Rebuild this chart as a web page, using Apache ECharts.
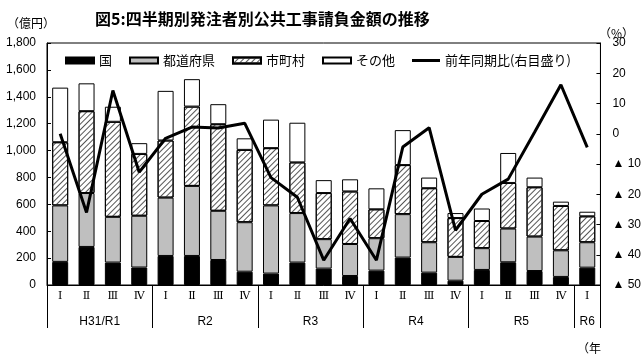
<!DOCTYPE html>
<html><head><meta charset="utf-8">
<script src="https://cdn.jsdelivr.net/npm/echarts@6/dist/echarts.min.js"></script>
<style>html,body{margin:0;padding:0;background:#fff}#c{width:644px;height:354px}</style>
</head><body><div id="c"></div>
<script>
var quarters = ['Ⅰ','Ⅱ','Ⅲ','Ⅳ','Ⅰ','Ⅱ','Ⅲ','Ⅳ','Ⅰ','Ⅱ','Ⅲ','Ⅳ','Ⅰ','Ⅱ','Ⅲ','Ⅳ','Ⅰ','Ⅱ','Ⅲ','Ⅳ','Ⅰ'];
var years = ['H31/R1','R2','R3','R4','R5','R6'];
var yearCounts = [4,4,4,4,4,1];
var kuni     = [172,283,167,130, 216,216,186,99, 85,167,122,67, 107,204,92,32, 112,169,104,60, 129];
var todofuken= [420,401,340,385, 434,521,366,368, 507,368,219,238, 241,323,226,177, 162,251,256,198, 189];
var shichoson= [470,609,707,460, 425,590,644,538, 426,377,343,391, 215,365,402,289, 202,339,367,330, 193];
var sonota   = [406,207,112,80, 369,204,149,86, 212,295,96,90, 156,260,79,37, 93,223,72,32, 34];
var yoy      = [0,-26,14.3,-12.7, -1.5,2.2,1.9,3.5, -14.5,-21,-41.8,-28, -41.8,-4.4,2.0,-31.9, -20,-15,0.5,16.2, -4.5];
var leftTicks = {min:0, max:1800, interval:200};
var rightTicks = {min:-50, max:30, interval:10};

var boundaries = [0], centers = [], centerName = {};
(function(){ var s=0; for (var i=0;i<years.length;i++){ centers.push(s+yearCounts[i]/2); centerName[s+yearCounts[i]/2]=years[i]; s+=yearCounts[i]; boundaries.push(s);} })();

var FONT = '"Noto Sans CJK JP", sans-serif';
var NUMFONT = '"Liberation Sans", Arial, sans-serif';
var chart = echarts.init(document.getElementById('c'), null, {renderer:'canvas'});
var barBorder = {borderColor:'#000', borderWidth:1};
chart.setOption({
  animation:false,
  backgroundColor:'#fff',
  title:[
    {text:'図5:四半期別発注者別公共工事請負金額の推移', left:90, top:6, textStyle:{fontFamily:FONT, fontSize:16, fontWeight:'bold', color:'#000'}},
    {text:'（億円）', left:2, top:12, textStyle:{fontFamily:FONT, fontSize:12, fontWeight:'normal', color:'#000'}},
    {text:'（%）', left:594, top:22, textStyle:{fontFamily:FONT, fontSize:12, fontWeight:'normal', color:'#000'}},
    {text:'（年', left:572, top:337, textStyle:{fontFamily:FONT, fontSize:12, fontWeight:'normal', color:'#000'}}
  ],
  legend:{
    left:60, top:49, itemWidth:28, itemHeight:6, itemGap:17,
    textStyle:{fontFamily:FONT, fontSize:13, color:'#000'},
    data:[{name:'国', icon:'rect'},{name:'都道府県', icon:'rect'},{name:'市町村', icon:'rect'},{name:'その他', icon:'rect'},
      {name:'前年同期比(右目盛り)', icon:'path://M0 0L0.01 0ZM0 1.5H28V4.5H0ZM0 6L0.01 6Z', itemStyle:{color:'#000', borderWidth:0}}]
  },
  grid:{left:47, right:43, top:43, bottom:69, show:true, borderColor:'#000', borderWidth:1, backgroundColor:'transparent'},
  xAxis:[
    {type:'category', data:quarters, position:'bottom',
     axisLine:{show:true, onZero:false, lineStyle:{color:'#000', width:1}},
     axisTick:{show:false},
     axisLabel:{color:'#000', fontFamily:'"DejaVu Serif", serif', fontSize:11, margin:6, interval:0}},
    {type:'value', min:0, max:quarters.length, position:'bottom',
     axisLine:{show:false, onZero:false}, splitLine:{show:false},
     axisTick:{show:true, customValues:boundaries, length:43, lineStyle:{color:'#000', width:1}},
     axisLabel:{show:true, customValues:centers, margin:31, color:'#000', fontFamily:NUMFONT, fontSize:12,
       formatter:function(v){ return centerName[v] || ''; }}}
  ],
  yAxis:[
    {type:'value', min:leftTicks.min, max:leftTicks.max, interval:leftTicks.interval,
     axisLine:{show:true, lineStyle:{color:'#000'}},
     axisTick:{show:true, inside:true, length:4, lineStyle:{color:'#000'}},
     splitLine:{show:false},
     axisLabel:{color:'#000', fontFamily:NUMFONT, fontSize:12, margin:11,
       formatter:function(v){ return v.toLocaleString('en-US'); }}},
    {type:'value', min:rightTicks.min, max:rightTicks.max, interval:rightTicks.interval, position:'right',
     axisLine:{show:true, lineStyle:{color:'#000'}},
     axisTick:{show:true, inside:true, length:4, lineStyle:{color:'#000'}},
     splitLine:{show:false},
     axisLabel:{color:'#000', fontFamily:NUMFONT, fontSize:12, margin:12, align:'left',
       formatter:function(v){ return v<0 ? '▲ '+Math.abs(v) : String(v); }}}
  ],
  series:[
    {name:'国', type:'bar', stack:'a', barWidth:16, data:kuni, itemStyle:Object.assign({color:'#000'}, barBorder)},
    {name:'都道府県', type:'bar', stack:'a', barWidth:16, data:todofuken, itemStyle:Object.assign({color:'#bfbfbf'}, barBorder)},
    {name:'市町村', type:'bar', stack:'a', barWidth:16, data:shichoson, itemStyle:Object.assign({color:'#fff',
      decal:{symbol:'rect', symbolSize:1, dashArrayX:[1,0], dashArrayY:[1,3], rotation:-Math.PI/4, color:'#555'}}, barBorder)},
    {name:'その他', type:'bar', stack:'a', barWidth:16, data:sonota, itemStyle:Object.assign({color:'#fff'}, barBorder)},
    {name:'前年同期比(右目盛り)', type:'line', yAxisIndex:1, data:yoy, symbol:'none', z:5,
     lineStyle:{color:'#000', width:3}, itemStyle:{color:'#000'}}
  ]
});
</script></body></html>
